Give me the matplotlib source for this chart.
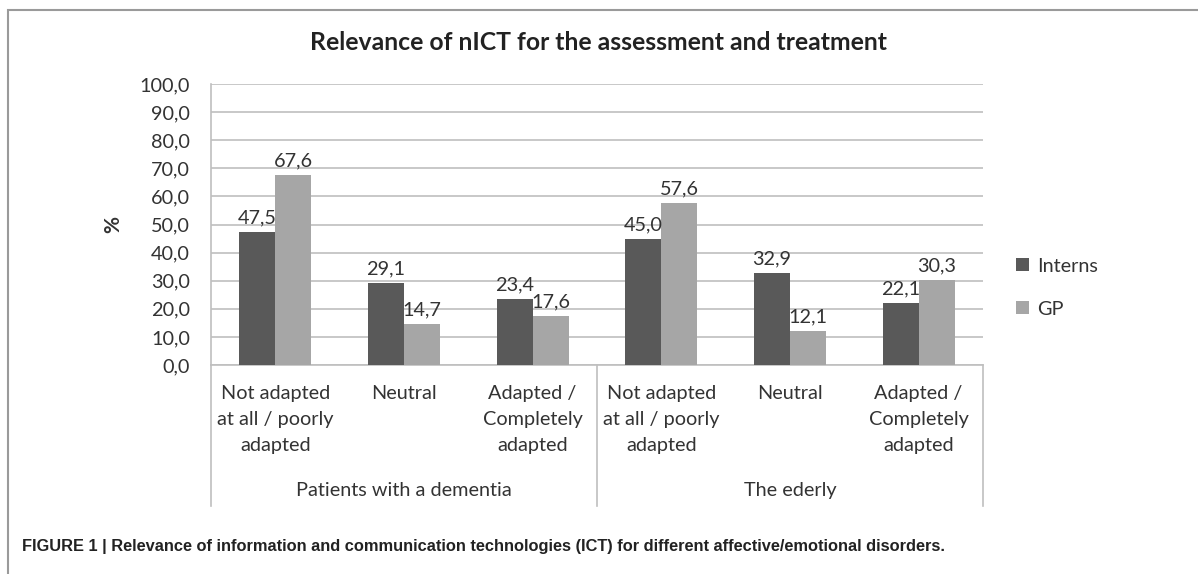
import matplotlib.pyplot as plt
import numpy as np
from matplotlib.patches import Rectangle
from matplotlib.lines import Line2D

# Data
categories = ['Not adapted\nat all / poorly\nadapted', 'Neutral', 'Adapted /\nCompletely\nadapted',
              'Not adapted\nat all / poorly\nadapted', 'Neutral', 'Adapted /\nCompletely\nadapted']
groups = ['Patients with a dementia', 'The ederly']
interns = [47.5, 29.1, 23.4, 45.0, 32.9, 22.1]
gp = [67.6, 14.7, 17.6, 57.6, 12.1, 30.3]
series_names = ['Interns', 'GP']

plt.rcParams['font.family'] = ['Lato', 'DejaVu Sans']
txt = '#333333'
fs = 14.3

fig = plt.figure(figsize=(11.98, 5.74), dpi=100)
ax = fig.add_axes([211 / 1198, 1 - 365 / 574, (983 - 211) / 1198, (365 - 84) / 574])

x = np.arange(len(categories))
w = 0.28
ax.bar(x - w / 2, interns, w, color='#595959', label=series_names[0], zorder=3)
ax.bar(x + w / 2, gp, w, color='#a6a6a6', label=series_names[1], zorder=3)

for xi, v in zip(x - w / 2, interns):
    ax.text(xi, v + 2, f'{v:.1f}'.replace('.', ','), ha='center', va='bottom', fontsize=fs, color=txt)
for xi, v in zip(x + w / 2, gp):
    ax.text(xi, v + 2, f'{v:.1f}'.replace('.', ','), ha='center', va='bottom', fontsize=fs, color=txt)

ax.set_xlim(-0.5, len(categories) - 0.5)
ax.set_ylim(0, 100)
ax.set_yticks(np.arange(0, 101, 10))
ax.set_yticklabels([f'{t:.1f}'.replace('.', ',') for t in np.arange(0, 101, 10)], fontsize=fs, color=txt)
ax.yaxis.grid(True, color='#bfbfbf', linewidth=1.2, zorder=0)
ax.tick_params(axis='y', length=0, pad=15)
ax.set_xticks([])
for s in ['top', 'right']:
    ax.spines[s].set_visible(False)
ax.spines['left'].set_color('#bfbfbf')
ax.spines['bottom'].set_color('#bfbfbf')
ax.spines['left'].set_linewidth(1.2)
ax.spines['bottom'].set_linewidth(1.2)

ax.set_ylabel('%', fontsize=15, fontweight='bold', color=txt, labelpad=12)

# category labels
for xi, c in zip(x, categories):
    ax.text(xi, -0.072, c, transform=ax.get_xaxis_transform(), ha='center', va='top',
            fontsize=fs, color=txt, linespacing=1.65)
# group labels and separators
for gi, g in enumerate(groups):
    ax.text(gi * 3 + 1, -0.445, g, transform=ax.get_xaxis_transform(), ha='center', va='center',
            fontsize=fs, color=txt)
for sx in [-0.5, 2.5, 5.5]:
    ax.add_line(Line2D([sx, sx], [0, -0.5], transform=ax.get_xaxis_transform(),
                       color='#bfbfbf', linewidth=1.2, clip_on=False))

leg = ax.legend(loc='center left', bbox_to_anchor=(1.02, 0.275), frameon=False, fontsize=fs,
                handlelength=0.65, handleheight=0.65, labelspacing=1.3, handletextpad=0.4)
for t in leg.get_texts():
    t.set_color(txt)

fig.text(0.5, 1 - 42 / 574, 'Relevance of nICT for the assessment and treatment', ha='center', va='center',
         fontsize=17.8, fontweight='bold', color='#222222')

fig.text(22 / 1198, 1 - 547 / 574,
         'FIGURE 1 | Relevance of information and communication technologies (ICT) for different affective/emotional disorders.',
         ha='left', va='center', fontsize=11.8, fontweight='bold', color='#222222',
         family=['Liberation Sans', 'DejaVu Sans'])

# outer frame
fig.patches.append(Rectangle((8 / 1198, -0.2), 1.2, 1.2 - 10 / 574, transform=fig.transFigure,
                             fill=False, edgecolor='#9a9a9a', linewidth=1.5, clip_on=False))

fig.savefig('out.png', dpi=100)
